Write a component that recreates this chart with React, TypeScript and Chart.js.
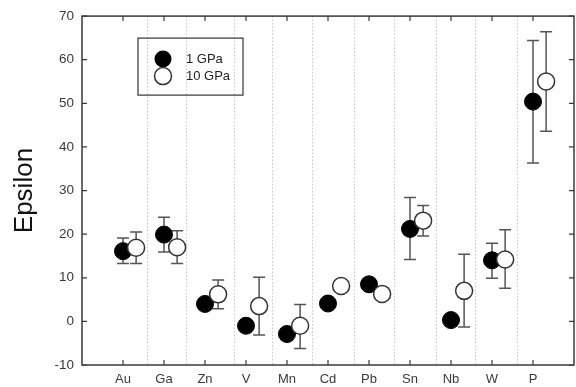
import { useEffect, useRef } from "react";
import { Chart, registerables } from "chart.js";

Chart.register(...registerables);

// ---- data ----
const elements = ["Au", "Ga", "Zn", "V", "Mn", "Cd", "Pb", "Sn", "Nb", "W", "P"];

const gpa1 = [16.1, 19.9, 4.0, -1.0, -2.9, 4.1, 8.5, 21.2, 0.3, 14.0, 50.4];
const gpa1Low: (number | null)[] = [13.3, 15.9, null, null, null, null, null, 14.2, null, 9.9, 36.3];
const gpa1High: (number | null)[] = [19.1, 23.9, null, null, null, null, null, 28.4, null, 17.9, 64.4];

const gpa10 = [16.9, 17.0, 6.2, 3.5, -1.0, 8.1, 6.3, 23.1, 7.0, 14.2, 55.0];
const gpa10Low: (number | null)[] = [13.3, 13.3, 2.9, -3.1, -6.2, null, null, 19.6, -1.3, 7.6, 43.6];
const gpa10High: (number | null)[] = [20.5, 20.8, 9.5, 10.1, 3.9, null, null, 26.6, 15.4, 21.0, 66.4];

const yTicks = [-10, 0, 10, 20, 30, 40, 50, 60, 70];
// dotted separators between element columns (x in category units)
const dividers = [1.59, 2.53, 3.71, 4.63, 5.62, 6.63, 7.62, 8.63, 9.59, 10.62];
const openOffset = 0.32;

const FONT = "'Liberation Sans', Arial, Helvetica, sans-serif";

const decorPlugin = {
  id: "decor",
  beforeDatasetsDraw(chart: any) {
    const { ctx, chartArea: a, scales } = chart;
    const x = scales.x;
    const y = scales.y;
    ctx.save();
    // dotted dividers
    ctx.strokeStyle = "#c4c4c4";
    ctx.lineWidth = 1;
    ctx.setLineDash([1.5, 2]);
    dividers.forEach((d) => {
      const px = Math.round(x.getPixelForValue(d)) + 0.5;
      ctx.beginPath();
      ctx.moveTo(px, a.top);
      ctx.lineTo(px, a.bottom);
      ctx.stroke();
    });
    ctx.setLineDash([]);
    // error bars
    ctx.strokeStyle = "#555";
    ctx.lineWidth = 1.5;
    const cap = 6;
    const bar = (xv: number, lo: number | null, hi: number | null) => {
      if (lo == null || hi == null) return;
      const px = x.getPixelForValue(xv);
      const pl = y.getPixelForValue(lo);
      const ph = y.getPixelForValue(hi);
      ctx.beginPath();
      ctx.moveTo(px, pl);
      ctx.lineTo(px, ph);
      ctx.moveTo(px - cap, pl);
      ctx.lineTo(px + cap, pl);
      ctx.moveTo(px - cap, ph);
      ctx.lineTo(px + cap, ph);
      ctx.stroke();
    };
    elements.forEach((_, i) => {
      bar(i + 1, gpa1Low[i], gpa1High[i]);
      bar(i + 1 + openOffset, gpa10Low[i], gpa10High[i]);
    });
    ctx.restore();
  },
  afterDraw(chart: any) {
    const { ctx, chartArea: a, scales } = chart;
    const x = scales.x;
    const y = scales.y;
    ctx.save();
    // frame
    ctx.strokeStyle = "#3a3a3a";
    ctx.lineWidth = 1.5;
    ctx.strokeRect(a.left, a.top, a.right - a.left, a.bottom - a.top);
    // inward ticks
    const tl = 5;
    ctx.lineWidth = 1.2;
    ctx.beginPath();
    elements.forEach((_, i) => {
      const px = x.getPixelForValue(i + 1);
      ctx.moveTo(px, a.bottom);
      ctx.lineTo(px, a.bottom - tl);
      ctx.moveTo(px, a.top);
      ctx.lineTo(px, a.top + tl);
    });
    yTicks.forEach((v) => {
      const py = y.getPixelForValue(v);
      ctx.moveTo(a.left, py);
      ctx.lineTo(a.left + tl, py);
      ctx.moveTo(a.right, py);
      ctx.lineTo(a.right - tl, py);
    });
    ctx.stroke();

    // legend
    const bx = a.left + 56;
    const by = a.top + 22;
    const bw = 105;
    const bh = 57;
    ctx.strokeStyle = "#333";
    ctx.lineWidth = 1.2;
    ctx.strokeRect(bx, by, bw, bh);
    const mx = bx + 25;
    const r = 8.5;
    ctx.fillStyle = "#000";
    ctx.beginPath();
    ctx.arc(mx, by + 21, r, 0, Math.PI * 2);
    ctx.fill();
    ctx.fillStyle = "#fff";
    ctx.strokeStyle = "#333";
    ctx.lineWidth = 1.5;
    ctx.beginPath();
    ctx.arc(mx, by + 38, r, 0, Math.PI * 2);
    ctx.fill();
    ctx.stroke();
    ctx.fillStyle = "#222";
    ctx.font = `13px ${FONT}`;
    ctx.textAlign = "left";
    ctx.textBaseline = "middle";
    ctx.fillText("1 GPa", bx + 48, by + 21);
    ctx.fillText("10 GPa", bx + 48, by + 38);
    ctx.restore();
  },
};

export default function App() {
  const ref = useRef<HTMLCanvasElement>(null);

  useEffect(() => {
    const canvas = ref.current!;
    const chart = new Chart(canvas, {
      type: "scatter",
      data: {
        datasets: [
          {
            label: "1 GPa",
            data: gpa1.map((v, i) => ({ x: i + 1, y: v })),
            backgroundColor: "#000",
            borderColor: "#000",
            borderWidth: 1,
            pointRadius: 8.5,
            pointHoverRadius: 8.5,
            order: 2,
          },
          {
            label: "10 GPa",
            data: gpa10.map((v, i) => ({ x: i + 1 + openOffset, y: v })),
            backgroundColor: "#fff",
            borderColor: "#333",
            borderWidth: 1.5,
            pointRadius: 8.5,
            pointHoverRadius: 8.5,
            order: 1,
          },
        ],
      },
      options: {
        animation: false,
        responsive: false,
        devicePixelRatio: 1,
        events: [],
        layout: { padding: { top: 14, right: 4, left: 0, bottom: 0 } },
        plugins: {
          legend: { display: false },
          tooltip: { enabled: false },
        },
        scales: {
          x: {
            type: "linear",
            min: 0,
            max: 12,
            grid: { display: false, drawTicks: false },
            border: { display: false },
            afterBuildTicks: (scale: any) => {
              scale.ticks = elements.map((_, i) => ({ value: i + 1 }));
            },
            afterFit: (scale: any) => {
              scale.height = 22;
            },
            ticks: {
              autoSkip: false,
              maxRotation: 0,
              padding: 7,
              color: "#3a3a3a",
              font: { family: FONT, size: 13 },
              callback: (v: any) => elements[Math.round(Number(v)) - 1] ?? "",
            },
          },
          y: {
            type: "linear",
            min: -10,
            max: 70,
            grid: { display: false, drawTicks: false },
            border: { display: false },
            afterBuildTicks: (scale: any) => {
              scale.ticks = yTicks.map((v) => ({ value: v }));
            },
            afterFit: (scale: any) => {
              scale.width = 82;
            },
            ticks: {
              padding: 8,
              color: "#3a3a3a",
              font: { family: FONT, size: 13.5 },
            },
            title: {
              display: true,
              text: "Epsilon",
              color: "#111",
              font: { family: FONT, size: 26 },
              padding: { top: 9, bottom: 0 },
            },
          },
        },
      },
      plugins: [decorPlugin],
    });
    return () => chart.destroy();
  }, []);

  return (
    <div
      style={{
        position: "fixed",
        left: 0,
        top: 0,
        width: 576,
        height: 387,
        overflow: "hidden",
        background: "#fff",
      }}
    >
      <canvas ref={ref} width={584} height={387} style={{ display: "block", width: 584, height: 387 }} />
    </div>
  );
}
